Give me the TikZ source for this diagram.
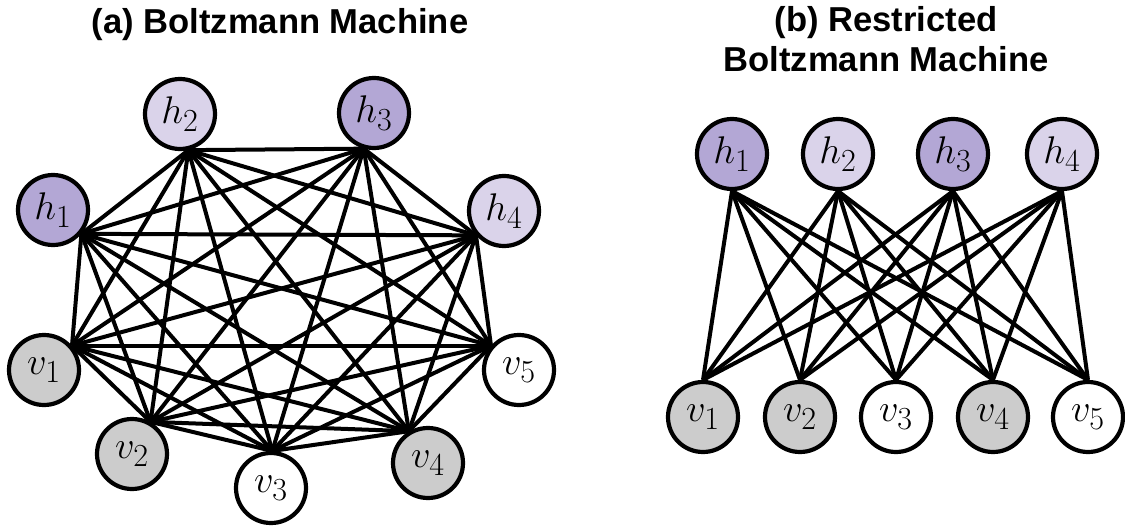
\RequirePackage{fix-cm}
\documentclass[tikz,border=0pt]{standalone}
\usepackage{fontspec}
\setsansfont{Liberation Sans}
\definecolor{hdark}{RGB}{179,167,213}
\definecolor{hlight}{RGB}{218,211,234}
\definecolor{vgrey}{RGB}{204,204,204}
% unit labels: math italic, enlarged
\newcommand\unitlbl[1]{\scalebox{1.55}{$#1$}}
\tikzset{
  unit/.style={circle, draw=black, line width=4.2pt, minimum size=70pt,
    inner sep=0pt, font=\fontsize{24.88}{30}\selectfont},
  hd/.style={unit, fill=hdark},
  hl/.style={unit, fill=hlight},
  vg/.style={unit, fill=vgrey},
  vw/.style={unit, fill=white},
  link/.style={line width=4pt, black},
  title/.style={font=\sffamily\bfseries\fontsize{34.6}{40}\selectfont, anchor=base, inner sep=0pt}
}
\begin{document}
\begin{tikzpicture}[x=1pt, y=-1pt]
\useasboundingbox (0,0) rectangle (1125,527);

% titles
\node[title] (ta) at (280,34) {(a) Boltzmann Machine};
\node[title] (tb1) at (886,32) {(b) Restricted};
\node[title] (tb2) at (886,72) {Boltzmann Machine};

% (a) fully connected Boltzmann machine
\node[hd] (bh1) at (53,210) {\unitlbl{h_1}};
\node[hl] (bh2) at (180,114) {\unitlbl{h_2}};
\node[hd] (bh3) at (374,113) {\unitlbl{h_3}};
\node[hl] (bh4) at (504,211) {\unitlbl{h_4}};
\node[vg] (bv1) at (44,370) {\unitlbl{v_1}};
\node[vg] (bv2) at (132,454) {\unitlbl{v_2}};
\node[vw] (bv3) at (271,488) {\unitlbl{v_3}};
\node[vg] (bv4) at (428,463) {\unitlbl{v_4}};
\node[vw] (bv5) at (519,370) {\unitlbl{v_5}};

\foreach \a/\aa [count=\i] in {bh1/-40,bh2/-77,bh3/-106,bh4/-139,bv1/41,bv2/60,bv3/88,bv4/121,bv5/139}{
  \foreach \b/\bb [count=\j] in {bh1/-40,bh2/-77,bh3/-106,bh4/-139,bv1/41,bv2/60,bv3/88,bv4/121,bv5/139}{
    \ifnum\j>\i
      \draw[link] (\a.\aa) -- (\b.\bb);
    \fi
  }
}

% (b) restricted Boltzmann machine
\node[hd] (rh1) at (732,154) {\unitlbl{h_1}};
\node[hl] (rh2) at (838,154) {\unitlbl{h_2}};
\node[hd] (rh3) at (953,154) {\unitlbl{h_3}};
\node[hl] (rh4) at (1062,154) {\unitlbl{h_4}};
\node[vg] (rv1) at (703,417) {\unitlbl{v_1}};
\node[vg] (rv2) at (800,417) {\unitlbl{v_2}};
\node[vw] (rv3) at (896,417) {\unitlbl{v_3}};
\node[vg] (rv4) at (993,417) {\unitlbl{v_4}};
\node[vw] (rv5) at (1088,417) {\unitlbl{v_5}};

\foreach \h in {rh1,rh2,rh3,rh4}{
  \foreach \v in {rv1,rv2,rv3,rv4,rv5}{
    \draw[link] (\h.south) -- (\v.north);
  }
}
\end{tikzpicture}
\end{document}
